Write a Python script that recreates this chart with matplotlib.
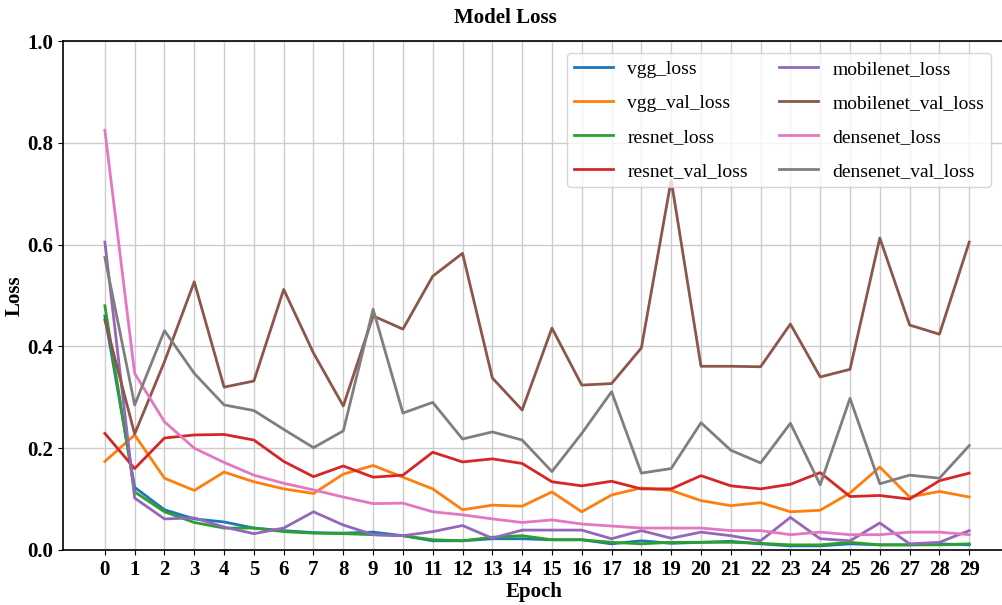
import matplotlib.pyplot as plt

plt.rcParams['font.family'] = ['Liberation Serif', 'DejaVu Serif']

epochs = list(range(30))

vgg_loss = [0.460, 0.123, 0.079, 0.061, 0.055, 0.043, 0.038, 0.034, 0.033, 0.035,
            0.028, 0.018, 0.018, 0.022, 0.022, 0.020, 0.020, 0.012, 0.018, 0.013,
            0.015, 0.017, 0.012, 0.008, 0.008, 0.012, 0.010, 0.010, 0.012, 0.010]
vgg_val_loss = [0.174, 0.226, 0.141, 0.117, 0.153, 0.134, 0.120, 0.111, 0.149, 0.166,
                0.143, 0.120, 0.079, 0.088, 0.086, 0.114, 0.075, 0.108, 0.122, 0.117,
                0.097, 0.087, 0.093, 0.075, 0.078, 0.112, 0.163, 0.104, 0.115, 0.104]
resnet_loss = [0.480, 0.114, 0.075, 0.054, 0.043, 0.043, 0.036, 0.033, 0.032, 0.030,
               0.028, 0.020, 0.018, 0.025, 0.028, 0.020, 0.020, 0.015, 0.012, 0.015,
               0.015, 0.015, 0.013, 0.010, 0.010, 0.015, 0.010, 0.010, 0.010, 0.012]
resnet_val_loss = [0.229, 0.160, 0.220, 0.226, 0.227, 0.216, 0.174, 0.144, 0.165, 0.143,
                   0.147, 0.192, 0.173, 0.179, 0.170, 0.134, 0.126, 0.135, 0.120, 0.120,
                   0.146, 0.126, 0.120, 0.129, 0.152, 0.105, 0.107, 0.100, 0.136, 0.151]
mobilenet_loss = [0.605, 0.102, 0.061, 0.063, 0.045, 0.032, 0.043, 0.075, 0.049, 0.030,
                  0.028, 0.036, 0.048, 0.023, 0.039, 0.039, 0.039, 0.022, 0.038, 0.023,
                  0.035, 0.028, 0.018, 0.064, 0.022, 0.018, 0.053, 0.012, 0.015, 0.038]
mobilenet_val_loss = [0.452, 0.228, 0.370, 0.527, 0.320, 0.332, 0.512, 0.387, 0.283, 0.460,
                      0.434, 0.538, 0.583, 0.338, 0.275, 0.436, 0.324, 0.327, 0.397, 0.727,
                      0.361, 0.361, 0.360, 0.444, 0.340, 0.355, 0.613, 0.442, 0.424, 0.605]
densenet_loss = [0.825, 0.347, 0.252, 0.200, 0.172, 0.147, 0.131, 0.118, 0.104, 0.091,
                 0.092, 0.075, 0.069, 0.061, 0.054, 0.059, 0.051, 0.047, 0.043, 0.043,
                 0.043, 0.038, 0.038, 0.030, 0.035, 0.030, 0.030, 0.035, 0.035, 0.030]
densenet_val_loss = [0.575, 0.285, 0.431, 0.347, 0.285, 0.274, 0.237, 0.201, 0.234, 0.473,
                     0.269, 0.290, 0.218, 0.232, 0.216, 0.154, 0.229, 0.311, 0.151, 0.160,
                     0.250, 0.196, 0.171, 0.249, 0.128, 0.298, 0.130, 0.147, 0.141, 0.205]

series = [
    ('vgg_loss', vgg_loss),
    ('vgg_val_loss', vgg_val_loss),
    ('resnet_loss', resnet_loss),
    ('resnet_val_loss', resnet_val_loss),
    ('mobilenet_loss', mobilenet_loss),
    ('mobilenet_val_loss', mobilenet_val_loss),
    ('densenet_loss', densenet_loss),
    ('densenet_val_loss', densenet_val_loss),
]

fig = plt.figure(figsize=(10.02, 6.05), dpi=100)
ax = fig.add_axes([0.063, 0.091, 0.94, 0.841])

for name, vals in series:
    ax.plot(epochs, vals, label=name, linewidth=2)

ax.set_title('Model Loss', fontsize=15, fontweight='bold', pad=13, x=0.47)
ax.set_xlabel('Epoch', fontsize=15, fontweight='bold', labelpad=2)
ax.set_ylabel('Loss', fontsize=15, fontweight='bold', labelpad=2)
ax.set_xticks(epochs)
ax.set_ylim(0, 1.0)
ax.set_xlim(-1.4, 30.2)
for lab in ax.get_xticklabels() + ax.get_yticklabels():
    lab.set_fontweight('bold')
    lab.set_fontsize(15)
for sp in ax.spines.values():
    sp.set_linewidth(1.2)
ax.grid(True, color='#cccccc', linewidth=1)
ax.legend(ncol=2, fontsize=14, loc='upper left', bbox_to_anchor=(0.535, 0.976),
          borderaxespad=0, borderpad=0.35, labelspacing=0.85, handlelength=2.0,
          handletextpad=0.75, columnspacing=1.6)

fig.savefig('out.png', dpi=100)
